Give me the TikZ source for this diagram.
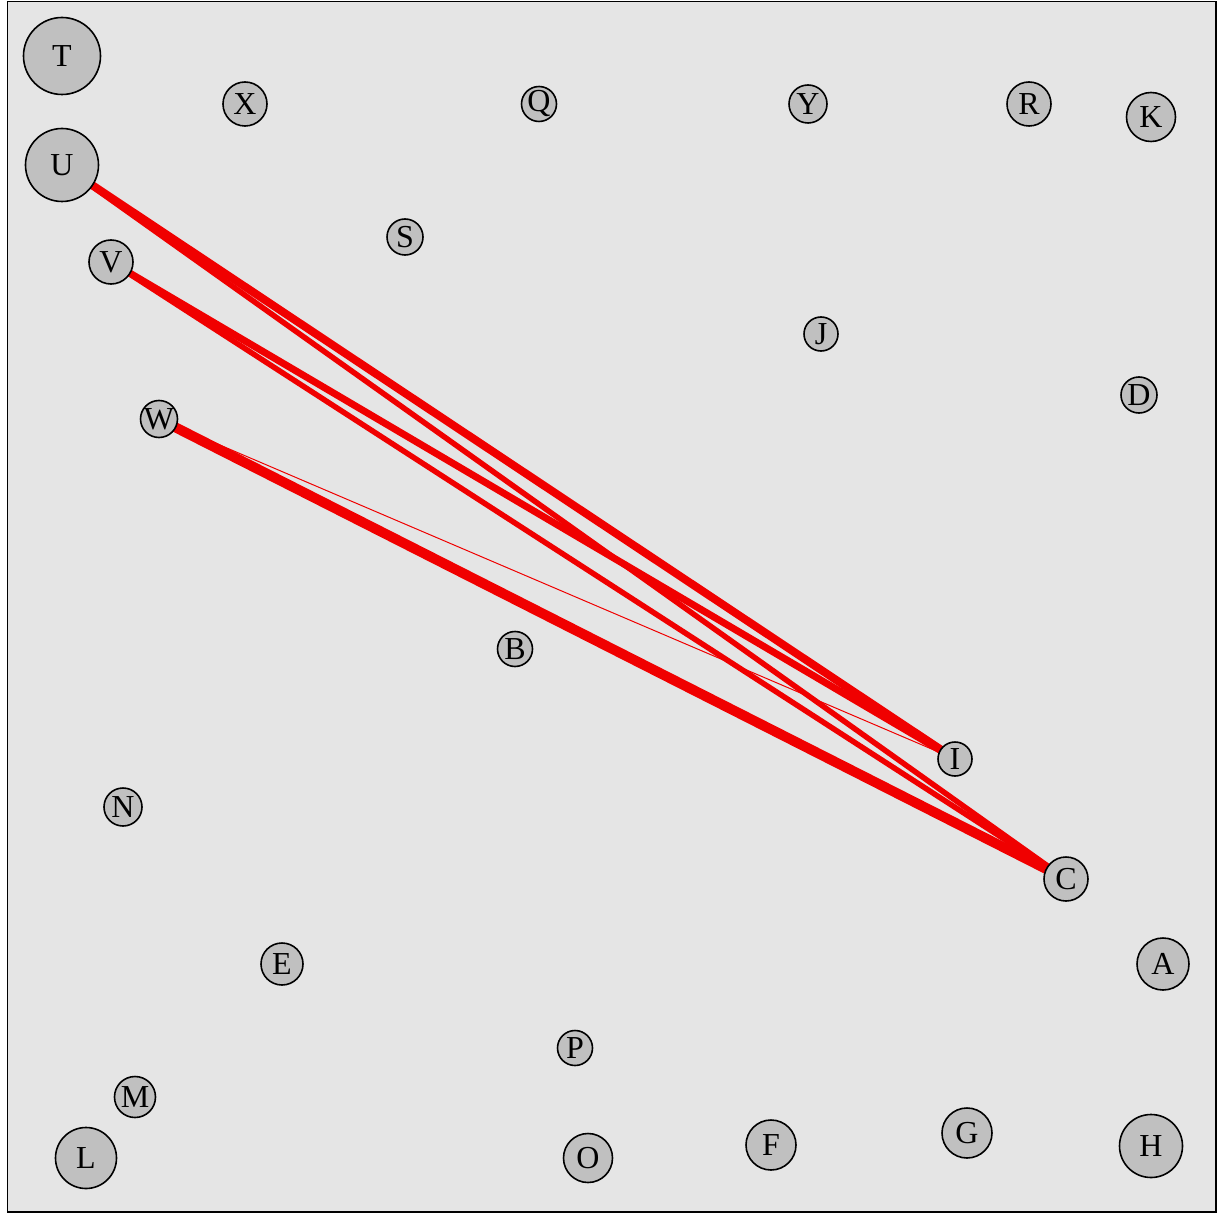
\documentclass[tikz,border=0pt]{standalone}
\usepackage{fontspec}
\setmainfont{Liberation Serif}
\pgfdeclarelayer{bg}
\pgfdeclarelayer{edges}
\pgfsetlayers{bg,edges,main}
\definecolor{panel}{RGB}{229,229,229}
\definecolor{vfill}{RGB}{192,192,192}
\definecolor{ered}{RGB}{240,0,0}
\begin{document}
\begin{tikzpicture}[x=1pt,y=-1pt,
  vert/.style={circle,draw=black,line width=1.6pt,fill=vfill,inner sep=0pt,
    font=\fontsize{32}{32}\selectfont},
  edge/.style={draw=ered,line cap=butt}]
\useasboundingbox (0,0) rectangle (1220,1214);
\begin{pgfonlayer}{bg}
\draw[fill=panel,line width=1.6pt] (7.5,1.5) rectangle (1216,1212);
\end{pgfonlayer}
\node[vert,minimum size=77pt] (T) at (62,56) {T};
\node[vert,minimum size=44pt] (X) at (245,104) {X};
\node[vert,minimum size=34pt] (Q) at (539,104) {Q};
\node[vert,minimum size=38pt] (Y) at (808,104) {Y};
\node[vert,minimum size=44pt] (R) at (1029,104) {R};
\node[vert,minimum size=49pt] (K) at (1151,117) {K};
\node[vert,minimum size=73pt] (U) at (62,165) {U};
\node[vert,minimum size=36pt] (S) at (405,237) {S};
\node[vert,minimum size=44pt] (V) at (111,262) {V};
\node[vert,minimum size=34pt] (J) at (821,334) {J};
\node[vert,minimum size=36pt] (D) at (1139,395) {D};
\node[vert,minimum size=34pt] (W) at (159,419) {W};
\node[vert,minimum size=35pt] (B) at (515,649) {B};
\node[vert,minimum size=34pt] (I) at (955,759) {I};
\node[vert,minimum size=38pt] (N) at (123,807) {N};
\node[vert,minimum size=44pt] (C) at (1066,879) {C};
\node[vert,minimum size=42pt] (E) at (282,964) {E};
\node[vert,minimum size=52pt] (A) at (1163,964) {A};
\node[vert,minimum size=35pt] (P) at (575,1048) {P};
\node[vert,minimum size=41pt] (M) at (135,1097) {M};
\node[vert,minimum size=61pt] (L) at (86,1158) {L};
\node[vert,minimum size=49pt] (O) at (588,1158) {O};
\node[vert,minimum size=50pt] (F) at (771,1145) {F};
\node[vert,minimum size=50pt] (G) at (967,1133) {G};
\node[vert,minimum size=63pt] (H) at (1151,1146) {H};
\begin{pgfonlayer}{edges}
\draw[edge,line width=8pt] (U.center) -- (I.center);
\draw[edge,line width=5.5pt] (U.center) -- (C.center);
\draw[edge,line width=7pt] (V.center) -- (I.center);
\draw[edge,line width=5.5pt] (V.center) -- (C.center);
\draw[edge,line width=10pt] (W.center) -- (C.center);
\draw[edge,line width=1pt] (W.center) -- (I.center);
\end{pgfonlayer}
\end{tikzpicture}
\end{document}
